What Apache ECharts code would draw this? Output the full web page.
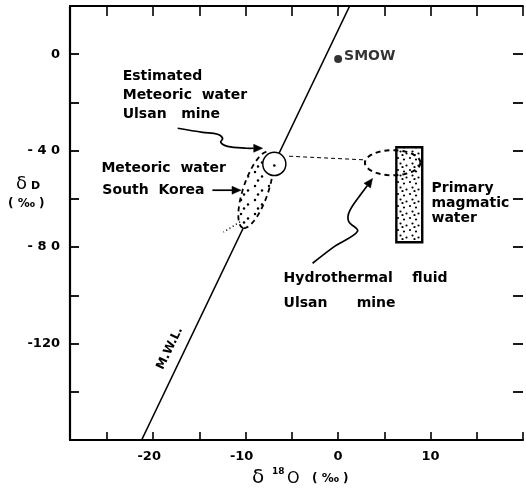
<!DOCTYPE html>
<html>
<head>
<meta charset="utf-8">
<script src="https://cdn.jsdelivr.net/npm/echarts@6/dist/echarts.min.js"></script>
<style>
html, body { margin: 0; padding: 0; background: #fff; }
#chart { width: 526px; height: 497px; }
</style>
</head>
<body>
<div id="chart"></div>
<script>
// Axis ranges (δ18O ‰ on x, δD ‰ on y)
const xRange = [-29, 20];
const yRange = [-160, 20];
const xTickLabels = { '-20': '-20', '-10': '-10', '0': '0', '10': '10' };
const yTickLabels = { '0': '0', '-40': '- 4 0', '-80': '- 8 0', '-120': '-120' };

// Meteoric water line (δD = 8·δ18O + 10)
const mwlO = [-21.25, 1.25];
const mwlD = [-160, 20];

// SMOW reference point
const smowO = [0];
const smowD = [-2];

// Estimated meteoric water, Ulsan mine
const estimatedO = -6.9;
const estimatedD = -45.5;
const estimatedRadiusO = 1.25;

// Meteoric water of South Korea: long axis end points and half width
const koreaAxisO = [-7.5, -10.3];
const koreaAxisD = [-40.5, -72];
const koreaHalfWidthO = 1.35;
const koreaTailO = [-10.6, -12.4];
const koreaTailD = [-69.5, -73.8];

// Hydrothermal fluid, Ulsan mine
const fluidO = 5.9;
const fluidD = -45;
const fluidHalfO = 3.0;
const fluidHalfD = 5.2;

// Tie line between the two fields
const tieO = [-5.3, 2.8];
const tieD = [-42.3, -43.8];

// Primary magmatic water box
const magmaticO = [6.3, 9.1];
const magmaticD = [-78, -38.6];

// Label pointer paths
const arrowEstO = [-17.35, -14.65, -13.03, -12.49, -12.70, -11.95, -9.89, -8.16];
const arrowEstD = [-30.7, -32.4, -33.2, -34.9, -36.5, -38.2, -39.0, -39.0];
const arrowKoreaO = [-13.6, -10.5];
const arrowKoreaD = [-56.4, -56.4];
const arrowFluidO = [-2.76, -0.38, 2.11, 1.14, 1.24, 2.54, 3.73];
const arrowFluidD = [-86.7, -79.7, -73.4, -69.3, -65.1, -57.7, -51.5];

// Annotation texts anchored at their left edge
const noteTexts = ['Estimated', 'Meteoric  water', 'Ulsan   mine', 'Meteoric  water', 'South  Korea',
  'Primary', 'magmatic', 'water', 'Hydrothermal    fluid', 'Ulsan      mine'];
const noteO = [-23.3, -23.3, -23.3, -25.6, -25.5, 10.1, 10.1, 10.1, -5.9, -5.9];
const noteD = [-9.1, -17.0, -24.9, -47.3, -56.4, -55.6, -61.8, -68.0, -92.9, -103.3];
const mwlLabelO = -18.2;
const mwlLabelD = -122;

const FONT = '"DejaVu Sans", sans-serif';

// Stipple textures
function stipple(size, dots, r) {
  const c = document.createElement('canvas');
  c.width = size; c.height = size;
  const ctx = c.getContext('2d');
  ctx.fillStyle = '#fff';
  ctx.fillRect(0, 0, size, size);
  ctx.fillStyle = '#000';
  dots.forEach(function (p) {
    ctx.beginPath();
    ctx.arc(p[0], p[1], r, 0, Math.PI * 2);
    ctx.fill();
  });
  return c;
}
const denseDots = stipple(12, [[2, 2], [8, 3.5], [4.5, 7.5], [10.5, 9.5], [6.5, 11]], 1.1);
const sparseDots = stipple(14, [[3, 4], [10, 8.5], [6, 12.5]], 1.25);

function arrowGroup(pts) {
  const n = pts.length;
  const tip = pts[n - 1];
  const prev = pts[n - 2];
  const dx = tip[0] - prev[0], dy = tip[1] - prev[1];
  const len = Math.sqrt(dx * dx + dy * dy) || 1;
  const ux = dx / len, uy = dy / len;
  const hl = 9, hw = 4;
  const base = [tip[0] - ux * hl, tip[1] - uy * hl];
  const linePts = pts.slice(0, n - 1).concat([base]);
  return [
    { type: 'polyline', shape: { points: linePts, smooth: 0.35 },
      style: { stroke: '#000', lineWidth: 1.7, fill: null } },
    { type: 'polygon', shape: { points: [tip,
        [base[0] - uy * hw, base[1] + ux * hw],
        [base[0] + uy * hw, base[1] - ux * hw]] },
      style: { fill: '#000', stroke: '#000', lineWidth: 0.5 } }
  ];
}

function renderNotes(params, api) {
  const P = function (o, d) { return api.coord([o, d]); };
  const pxO = api.size([1, 0])[0];
  const children = [];

  // South Korea meteoric water field (tilted dashed ellipse)
  const A = P(koreaAxisO[0], koreaAxisD[0]);
  const B = P(koreaAxisO[1], koreaAxisD[1]);
  const cx = (A[0] + B[0]) / 2, cy = (A[1] + B[1]) / 2;
  const L = Math.hypot(B[0] - A[0], B[1] - A[1]);
  const ux = (B[0] - A[0]) / L, uy = (B[1] - A[1]) / L;
  const a = L / 2, b = koreaHalfWidthO * pxO;
  const ell = [];
  for (let i = 0; i < 60; i++) {
    const t = i / 60 * Math.PI * 2;
    ell.push([cx + a * Math.cos(t) * ux - b * Math.sin(t) * uy,
              cy + a * Math.cos(t) * uy + b * Math.sin(t) * ux]);
  }
  children.push({ type: 'polygon', shape: { points: ell },
    style: { fill: { image: sparseDots, repeat: 'repeat' }, stroke: '#000', lineWidth: 1.8, lineDash: [5, 4] } });
  children.push({ type: 'line', shape: (function () {
      const p = P(koreaTailO[0], koreaTailD[0]), q = P(koreaTailO[1], koreaTailD[1]);
      return { x1: p[0], y1: p[1], x2: q[0], y2: q[1] };
    })(), style: { stroke: '#000', lineWidth: 1.4, lineDash: [1.2, 2.6] } });

  // Estimated meteoric water (circle)
  const ec = P(estimatedO, estimatedD);
  children.push({ type: 'circle', shape: { cx: ec[0], cy: ec[1], r: estimatedRadiusO * pxO },
    style: { fill: '#fff', stroke: '#000', lineWidth: 1.5 } });
  children.push({ type: 'circle', shape: { cx: ec[0], cy: ec[1] + 1.5, r: 1.3 },
    style: { fill: '#000' } });

  // Primary magmatic water box
  const r0 = P(magmaticO[0], magmaticD[1]);
  const r1 = P(magmaticO[1], magmaticD[0]);
  children.push({ type: 'rect', shape: { x: r0[0], y: r0[1], width: r1[0] - r0[0], height: r1[1] - r0[1] },
    style: { fill: { image: denseDots, repeat: 'repeat' }, stroke: '#000', lineWidth: 2.4 } });

  // Tie line
  const t0 = P(tieO[0], tieD[0]), t1 = P(tieO[1], tieD[1]);
  children.push({ type: 'line', shape: { x1: t0[0], y1: t0[1], x2: t1[0], y2: t1[1] },
    style: { stroke: '#000', lineWidth: 1, lineDash: [4, 3] } });

  // Hydrothermal fluid (dashed ellipse)
  const fc = P(fluidO, fluidD);
  const frx = fluidHalfO * pxO;
  const fry = api.size([0, fluidHalfD])[1];
  const fel = [];
  for (let i = 0; i < 60; i++) {
    const t = i / 60 * Math.PI * 2;
    fel.push([fc[0] + frx * Math.cos(t), fc[1] + fry * Math.sin(t)]);
  }
  children.push({ type: 'polygon', shape: { points: fel },
    style: { fill: null, stroke: '#000', lineWidth: 2, lineDash: [5, 4] } });

  // Label pointers
  const toPts = function (os, ds) { return os.map(function (o, i) { return P(o, ds[i]); }); };
  arrowGroup(toPts(arrowEstO, arrowEstD)).forEach(function (e) { children.push(e); });
  arrowGroup(toPts(arrowKoreaO, arrowKoreaD)).forEach(function (e) { children.push(e); });
  arrowGroup(toPts(arrowFluidO, arrowFluidD)).forEach(function (e) { children.push(e); });

  // Annotation texts
  noteTexts.forEach(function (txt, i) {
    const p = P(noteO[i], noteD[i]);
    children.push({ type: 'text', x: p[0], y: p[1],
      style: { text: txt, fill: '#000', font: 'bold 14px ' + FONT, align: 'left', verticalAlign: 'middle' } });
  });

  // Line label, rotated along the meteoric water line
  const m0 = P(mwlO[0], mwlD[0]), m1 = P(mwlO[1], mwlD[1]);
  const ang = Math.atan2(m0[1] - m1[1], m1[0] - m0[0]);
  const mp = P(mwlLabelO, mwlLabelD);
  children.push({ type: 'text', x: mp[0], y: mp[1], rotation: ang,
    style: { text: 'M.W.L.', fill: '#000', font: 'bold 12px ' + FONT, align: 'center', verticalAlign: 'middle' } });

  return { type: 'group', children: children };
}

const chart = echarts.init(document.getElementById('chart'), null, { renderer: 'canvas' });

chart.setOption({
  animation: false,
  backgroundColor: '#fff',
  grid: { left: 70, right: 2, top: 6, bottom: 57 },
  xAxis: [
    {
      type: 'value', min: xRange[0], max: xRange[1], splitNumber: 10, position: 'bottom',
      splitLine: { show: false },
      axisLine: { onZero: false, lineStyle: { color: '#000', width: 2.2 } },
      axisTick: { inside: true, length: 8, lineStyle: { color: '#000', width: 1.6 } },
      axisLabel: { color: '#000', fontFamily: FONT, fontWeight: 'bold', fontSize: 13, margin: 10,
        showMinLabel: true, showMaxLabel: true,
        formatter: function (v) {
          const t = xTickLabels[String(v)];
          if (!t) return '';
          return v < 0 ? '{n|' + t + '}' : t;
        },
        rich: { n: { color: '#000', fontFamily: FONT, fontWeight: 'bold', fontSize: 13, padding: [0, 8, 0, 0] } } }
    },
    {
      type: 'value', min: xRange[0], max: xRange[1], splitNumber: 10, position: 'top',
      splitLine: { show: false },
      axisLine: { onZero: false, lineStyle: { color: '#000', width: 1.8 } },
      axisTick: { inside: true, length: 10, lineStyle: { color: '#000', width: 1.6 } },
      axisLabel: { show: false }
    }
  ],
  yAxis: [
    {
      type: 'value', min: yRange[0], max: yRange[1], interval: 20, position: 'left',
      splitLine: { show: false },
      axisLine: { onZero: false, lineStyle: { color: '#000', width: 2.2 } },
      axisTick: { inside: true, length: 9, lineStyle: { color: '#000', width: 1.8 } },
      axisLabel: { color: '#000', fontFamily: FONT, fontWeight: 'bold', fontSize: 13, margin: 10,
        formatter: function (v) { return yTickLabels[String(v)] || ''; } }
    },
    {
      type: 'value', min: yRange[0], max: yRange[1], interval: 20, position: 'right',
      splitLine: { show: false },
      axisLine: { show: false, onZero: false },
      axisTick: { show: true, inside: true, length: 10, lineStyle: { color: '#000', width: 1.8 } },
      axisLabel: { show: false }
    }
  ],
  graphic: [
    { type: 'text', x: 252, y: 478, style: { text: 'δ', font: '20px ' + FONT, fill: '#000', verticalAlign: 'middle' } },
    { type: 'text', x: 272, y: 472, style: { text: '18', font: 'bold 9px ' + FONT, fill: '#000', verticalAlign: 'middle' } },
    { type: 'text', x: 287, y: 479, style: { text: 'O', font: '16px ' + FONT, fill: '#000', verticalAlign: 'middle' } },
    { type: 'text', x: 312, y: 479, style: { text: '( ‰ )', font: 'bold 12px ' + FONT, fill: '#000', verticalAlign: 'middle' } },
    { type: 'text', x: 16, y: 184, style: { text: 'δ', font: '18px ' + FONT, fill: '#000', verticalAlign: 'middle' } },
    { type: 'text', x: 31, y: 186, style: { text: 'D', font: 'bold 11px ' + FONT, fill: '#000', verticalAlign: 'middle' } },
    { type: 'text', x: 8, y: 204, style: { text: '( ‰ )', font: 'bold 12px ' + FONT, fill: '#000', verticalAlign: 'middle' } }
  ],
  series: [
    {
      name: 'M.W.L.', type: 'line', xAxisIndex: 0, yAxisIndex: 0, z: 2,
      data: mwlO.map(function (o, i) { return [o, mwlD[i]]; }),
      symbol: 'none', lineStyle: { color: '#000', width: 1.6 }
    },
    {
      name: 'fields', type: 'custom', xAxisIndex: 0, yAxisIndex: 0, z: 3,
      data: [[0, 0]], renderItem: renderNotes, silent: true
    },
    {
      name: 'SMOW', type: 'scatter', xAxisIndex: 0, yAxisIndex: 0, z: 4,
      data: smowO.map(function (o, i) { return [o, smowD[i]]; }),
      symbolSize: 8, itemStyle: { color: '#000' },
      label: { show: true, position: 'right', distance: 2, offset: [0, -3], formatter: 'SMOW',
        color: '#000', fontFamily: FONT, fontWeight: 'bold', fontSize: 14 }
    }
  ]
});
</script>
</body>
</html>
